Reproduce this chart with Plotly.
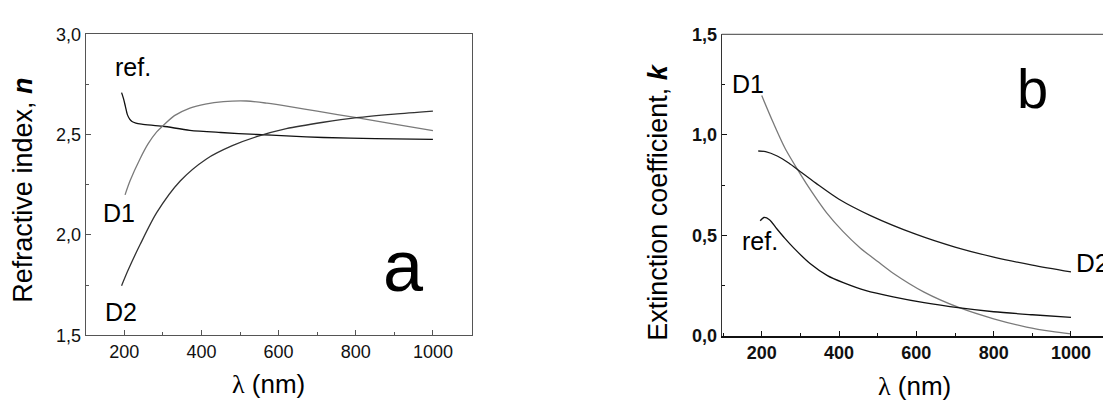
import plotly.graph_objects as go

# ---------------- data ----------------
# Panel a: refractive index n
wl_n_ref = [193, 198, 203, 208, 214, 220, 230, 245, 300, 370, 450, 543, 620, 716, 850, 1000]
n_ref = [2.71, 2.68, 2.64, 2.60, 2.578, 2.566, 2.558, 2.553, 2.542, 2.522, 2.511, 2.501, 2.494, 2.486, 2.480, 2.477]

wl_n_d1 = [202, 215, 241, 262, 284, 301, 330, 370, 410, 457, 517, 570, 629, 700, 802, 900, 1000]
n_d1 = [2.20, 2.27, 2.38, 2.455, 2.514, 2.546, 2.595, 2.633, 2.653, 2.665, 2.668, 2.657, 2.640, 2.617, 2.585, 2.553, 2.520]

wl_n_d2 = [193, 210, 241, 284, 345, 413, 480, 543, 620, 716, 802, 900, 1000]
n_d2 = [1.747, 1.825, 1.952, 2.111, 2.269, 2.379, 2.445, 2.490, 2.530, 2.562, 2.585, 2.603, 2.618]

# Panel b: extinction coefficient k
wl_k_d1 = [200, 230, 260, 300, 330, 368, 410, 454, 500, 540, 620, 713, 800, 885, 950, 1000]
k_d1 = [1.196, 1.06, 0.935, 0.805, 0.715, 0.612, 0.52, 0.439, 0.37, 0.312, 0.218, 0.139, 0.085, 0.044, 0.022, 0.010]

wl_k_d2 = [191, 210, 240, 270, 300, 340, 400, 480, 600, 700, 800, 900, 1000]
k_d2 = [0.920, 0.917, 0.895, 0.860, 0.817, 0.760, 0.680, 0.600, 0.505, 0.442, 0.392, 0.352, 0.318]

wl_k_ref = [196, 206, 220, 239, 260, 282, 325, 370, 411, 470, 540, 620, 713, 800, 900, 1000]
k_ref = [0.573, 0.589, 0.578, 0.533, 0.485, 0.439, 0.36, 0.30, 0.265, 0.225, 0.194, 0.165, 0.139, 0.12, 0.105, 0.092]

x_tick_vals = [200, 400, 600, 800, 1000]
x_tick_text = ["200", "400", "600", "800", "1000"]
n_tick_vals = [1.5, 2.0, 2.5, 3.0]
n_tick_text = ["1,5", "2,0", "2,5", "3,0"]
k_tick_vals = [0.0, 0.5, 1.0, 1.5]
k_tick_text = ["0,0", "0,5", "1,0", "1,5"]

FONT = "Arial, Liberation Sans, sans-serif"
W, H = 1103, 407

fig = go.Figure()

def add_line(x, y, color, xa, ya):
    fig.add_trace(go.Scatter(x=x, y=y, mode="lines", xaxis=xa, yaxis=ya,
                             line=dict(color=color, width=1.3, shape="spline", smoothing=0.8),
                             showlegend=False, hoverinfo="skip"))

add_line(wl_n_ref, n_ref, "#111111", "x", "y")
add_line(wl_n_d1, n_d1, "#7a7a7a", "x", "y")
add_line(wl_n_d2, n_d2, "#333333", "x", "y")

add_line(wl_k_d1, k_d1, "#7a7a7a", "x2", "y2")
add_line(wl_k_d2, k_d2, "#1a1a1a", "x2", "y2")
add_line(wl_k_ref, k_ref, "#111111", "x2", "y2")

left_axis_color = "#555555"

fig.update_layout(
    width=W, height=H,
    margin=dict(l=0, r=0, t=0, b=0),
    paper_bgcolor="white", plot_bgcolor="white",
    font=dict(family=FONT, color="#111111"),
    xaxis=dict(domain=[85.7 / W, 471.5 / W], range=[100, 1100],
               tickmode="array", tickvals=x_tick_vals, ticktext=x_tick_text,
               ticks="inside", ticklen=5, tickcolor=left_axis_color,
               showline=True, linecolor=left_axis_color, linewidth=1, mirror=True,
               showgrid=False, zeroline=False,
               tickfont=dict(size=18, family=FONT, color="#111111"),
               minor=dict(ticks="inside", ticklen=3, tick0=300, dtick=200, tickcolor=left_axis_color)),
    yaxis=dict(domain=[1 - 342 / H, 1 - 25.7 / H], range=[1.5, 3.0],
               tickmode="array", tickvals=n_tick_vals, ticktext=n_tick_text,
               ticks="inside", ticklen=5, tickcolor=left_axis_color,
               showline=True, linecolor=left_axis_color, linewidth=1, mirror=True,
               showgrid=False, zeroline=False,
               tickfont=dict(size=18, family=FONT, color="#111111"),
               minor=dict(ticks="inside", ticklen=3, tick0=1.75, dtick=0.5, tickcolor=left_axis_color)),
    xaxis2=dict(domain=[721.7 / W, 1.0], range=[96.5, 1082.8], anchor="y2",
                tickmode="array", tickvals=x_tick_vals, ticktext=x_tick_text,
                ticks="inside", ticklen=5, tickcolor="#111111",
                showline=True, linecolor="#111111", linewidth=1.5, mirror=False,
                showgrid=False, zeroline=False,
                tickfont=dict(size=18, family="Arial Black, Liberation Sans, sans-serif", color="#111111", weight="bold"),
                minor=dict(ticks="inside", ticklen=3, tick0=300, dtick=200, tickcolor="#111111")),
    yaxis2=dict(domain=[1 - 342.7 / H, 1 - 25.7 / H], range=[0, 1.5], anchor="x2",
                tickmode="array", tickvals=k_tick_vals, ticktext=k_tick_text,
                ticks="inside", ticklen=5, tickcolor="#111111",
                showline=True, linecolor="#333333", linewidth=1.2, mirror=False,
                showgrid=False, zeroline=False,
                tickfont=dict(size=18, family=FONT, color="#111111", weight="bold"),
                minor=dict(ticks="inside", ticklen=3, tick0=0.25, dtick=0.5, tickcolor="#111111")),
)

# top frame line of panel b (no right frame visible)
fig.add_shape(type="line", xref="x2 domain", yref="y2 domain", x0=0, x1=1, y0=1, y1=1,
              line=dict(color="#666666", width=1.2))

lam = '<span style="font-family:Liberation Serif, DejaVu Serif, serif">λ</span> (nm)'

annos = [
    # axis titles
    dict(text="Refractive index, <b><i>n</i></b>", x=23 / W, y=1 - 190 / H, xref="paper", yref="paper",
         textangle=-90, font=dict(size=27)),
    dict(text=lam, x=268 / W, y=1 - 393 / H, xref="paper", yref="paper", font=dict(size=26)),
    dict(text="Extinction coefficient, <b><i>k</i></b>", x=658 / W, y=1 - 201.7 / H, xref="paper", yref="paper",
         textangle=-90, font=dict(size=27)),
    dict(text=lam, x=914 / W, y=1 - 395 / H, xref="paper", yref="paper", font=dict(size=26)),
    # curve labels panel a
    dict(text="ref.", x=222.5, y=2.838, xref="x", yref="y", font=dict(size=25)),
    dict(text="D1", x=186, y=2.107, xref="x", yref="y", font=dict(size=25)),
    dict(text="D2", x=191.5, y=1.616, xref="x", yref="y", font=dict(size=25)),
    dict(text="a", x=925, y=1.846, xref="x", yref="y", font=dict(size=72)),
    # curve labels panel b
    dict(text="D1", x=165, y=1.251, xref="x2", yref="y2", font=dict(size=25)),
    dict(text="ref.", x=196, y=0.472, xref="x2", yref="y2", font=dict(size=25)),
    dict(text="D2", x=1008, y=0.362, xref="x2", yref="y2", xanchor="left", font=dict(size=26)),
    dict(text="b", x=900, y=1.232, xref="x2", yref="y2", font=dict(size=56)),
]
for a in annos:
    a.setdefault("xanchor", "center")
    a.setdefault("yanchor", "middle")
    a["showarrow"] = False
    a["font"] = dict(family=FONT, color="#000000", **a["font"])
    fig.add_annotation(**a)

fig.write_html("out.html")
